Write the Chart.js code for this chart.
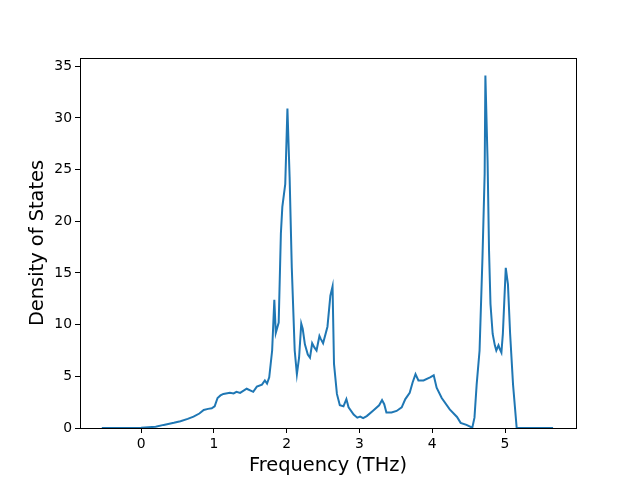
<!DOCTYPE html>
<html>
<head>
<meta charset="utf-8">
<script src="https://cdn.jsdelivr.net/npm/chart.js@4/dist/chart.umd.min.js"></script>
<style>
  html, body { margin: 0; padding: 0; background: #fff; }
  #wrap { width: 640px; height: 480px; }
</style>
</head>
<body>
<div id="wrap"><canvas id="dosChart" width="640" height="480"></canvas></div>
<script>
// phonon DOS
const freqs = [-0.54, 0.0, 0.2, 0.31, 0.45, 0.54, 0.64, 0.72, 0.80, 0.86, 0.92, 0.97, 1.01, 1.05, 1.09, 1.13,
  1.22, 1.27, 1.31, 1.36, 1.45, 1.54, 1.59, 1.66, 1.70, 1.73, 1.76, 1.80, 1.83, 1.85, 1.89, 1.92, 1.94, 1.98,
  2.01, 2.04, 2.07, 2.11, 2.14, 2.17, 2.20, 2.22, 2.25, 2.29, 2.32, 2.35, 2.38, 2.41, 2.45, 2.47, 2.50, 2.56,
  2.60, 2.63, 2.65, 2.69, 2.73, 2.78, 2.82, 2.85, 2.92, 2.97, 3.01, 3.05, 3.10, 3.19, 3.27, 3.31, 3.34, 3.37,
  3.44, 3.51, 3.58, 3.63, 3.69, 3.73, 3.77, 3.81, 3.88, 3.97, 4.02, 4.06, 4.13, 4.24, 4.34, 4.39, 4.47, 4.55,
  4.58, 4.61, 4.65, 4.69, 4.72, 4.73, 4.76, 4.78, 4.80, 4.83, 4.86, 4.88, 4.91, 4.93, 4.95, 4.97, 5.01, 5.04,
  5.07, 5.11, 5.16, 5.66];
const dos = [0, 0.02, 0.12, 0.3, 0.5, 0.66, 0.88, 1.1, 1.4, 1.75, 1.85, 1.9, 2.1, 2.9, 3.15, 3.3,
  3.4, 3.35, 3.5, 3.4, 3.8, 3.5, 4.0, 4.2, 4.6, 4.3, 4.9, 7.5, 12.4, 9.2, 10.2, 18.8, 21.4, 23.6,
  30.9, 24.3, 15.5, 7.5, 5.2, 6.8, 10.1, 9.6, 8.1, 7.1, 6.8, 8.2, 7.8, 7.5, 8.9, 8.6, 8.2, 9.8,
  12.8, 13.7, 6.2, 3.3, 2.2, 2.1, 2.8, 2.0, 1.3, 1.0, 1.1, 0.95, 1.15, 1.7, 2.2, 2.7, 2.3, 1.5,
  1.5, 1.65, 2.0, 2.8, 3.4, 4.4, 5.2, 4.6, 4.6, 4.9, 5.1, 3.9, 2.9, 1.8, 1.07, 0.5, 0.3, 0.03,
  1.0, 4.2, 7.5, 16.5, 24.6, 34.1, 25.9, 17.2, 12.0, 9.1, 8.0, 7.5, 8.0, 7.6, 7.3, 9.1, 15.5, 13.9,
  9.1, 4.2, 0, 0];

const xTicks = [0, 1, 2, 3, 4, 5];
const yTicks = [0, 5, 10, 15, 20, 25, 30, 35];

// matplotlib-style box around the plot area
const frameBox = {
    id: 'frameBox',
    afterDraw(chart) {
        const a = chart.chartArea;
        const ctx = chart.ctx;
        ctx.save();
        ctx.strokeStyle = '#000';
        ctx.lineWidth = 1;
        ctx.strokeRect(a.left + 0.5, a.top + 0.5, a.right - a.left, a.bottom - a.top);
        ctx.restore();
    }
};

function initChart() {
    const ctx = document.getElementById('dosChart').getContext('2d');
    const tickFont = { family: 'DejaVu Sans', size: 13.9 };
    const labelFont = { family: 'DejaVu Sans', size: 19.4 };

    new Chart(ctx, {
        type: 'line',
        data: {
            datasets: [{
                data: freqs.map((f, i) => ({ x: f, y: dos[i] })),
                borderColor: '#1f77b4',
                borderWidth: 2,
                pointRadius: 0,
                tension: 0,
                fill: false
            }]
        },
        options: {
            responsive: false,
            animation: false,
            layout: { padding: { left: 0, right: 64, top: 58, bottom: 0 } },
            plugins: { legend: { display: false }, tooltip: { enabled: false } },
            scales: {
                x: {
                    type: 'linear',
                    min: -0.84,
                    max: 5.975,
                    afterFit(s) { s.height = 52; },
                    afterBuildTicks(s) { s.ticks = xTicks.map(v => ({ value: v })); },
                    grid: { display: true, drawOnChartArea: false, drawTicks: true, tickLength: 5, tickColor: '#000' },
                    border: { display: true, color: '#000' },
                    ticks: { color: '#000', font: tickFont, padding: 3, maxRotation: 0 },
                    title: { display: true, text: 'Frequency (THz)', color: '#000', font: labelFont, padding: { top: 0, bottom: 2 } }
                },
                y: {
                    type: 'linear',
                    min: 0,
                    max: 35.8,
                    afterFit(s) { s.width = 80; },
                    afterBuildTicks(s) { s.ticks = yTicks.map(v => ({ value: v })); },
                    grid: { display: true, drawOnChartArea: false, drawTicks: true, tickLength: 5, tickColor: '#000' },
                    border: { display: true, color: '#000' },
                    ticks: { color: '#000', font: tickFont, padding: 3 },
                    title: { display: true, text: 'Density of States', color: '#000', font: labelFont, padding: { top: 26, bottom: 0 } }
                }
            }
        },
        plugins: [frameBox]
    });
}

document.addEventListener('DOMContentLoaded', function() {
    initChart();
});
</script>
</body>
</html>
